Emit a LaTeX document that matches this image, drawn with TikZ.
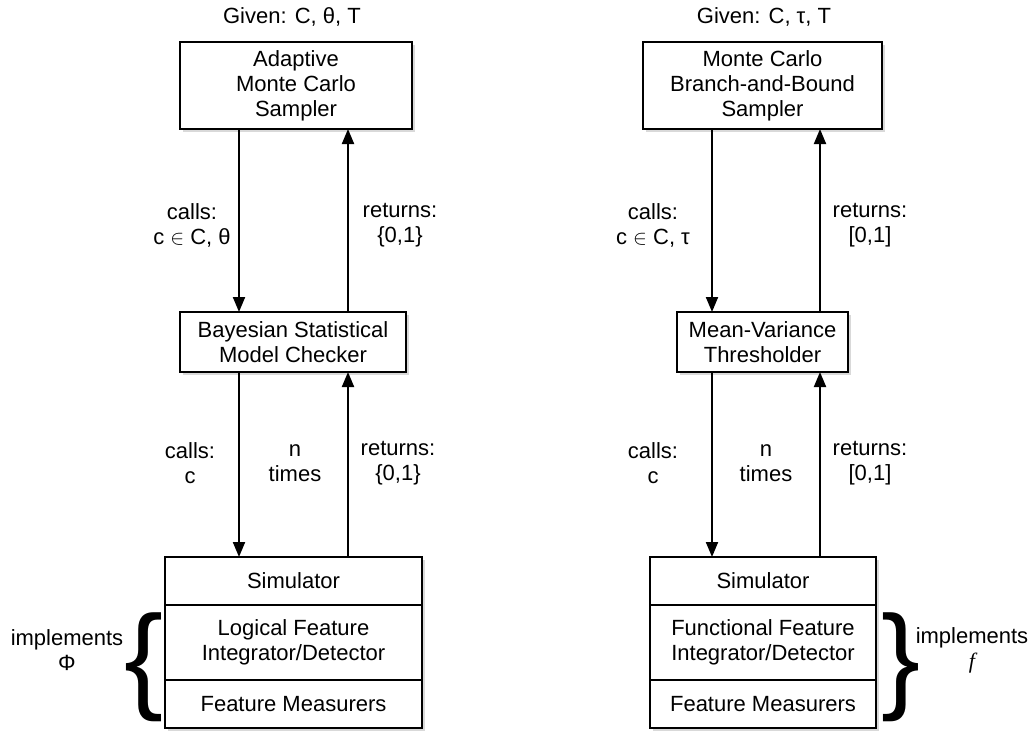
\documentclass[tikz,border=0pt]{standalone}
\usepackage{fontspec}
\setmainfont{Liberation Sans}
\newfontfamily\seriffont{Liberation Serif}
\usepackage{tikz}
\usetikzlibrary{arrows.meta}
\usetikzlibrary{positioning}
\usetikzlibrary{shadows}
\tikzset{
  every box/.style = {draw, fill=white, line width=2pt, align=center, inner sep=0pt, outer sep=0pt,
    drop shadow={shadow xshift=3pt, shadow yshift=-3pt, opacity=0.3}},
  box/.style 2 args = {every box, minimum width=#1, minimum height=#2},
  label text/.style = {align=center},
  link/.style = {->, line width=2pt},
  big brace/.style = {inner sep=0pt, font=\fontsize{117}{117}\selectfont}
}

\begin{document}
\begin{tikzpicture}[x=1pt, y=-1pt, >={Triangle[length=15pt,width=12pt]}, font=\fontsize{22}{25}\selectfont]
  \useasboundingbox (0,0) rectangle (1034,734);

  \node[label text] (givenL) at (292,17) {Given: C, θ, T};
  \node[box={232pt}{87pt}] (samplerL) at (296,85.5) {Adaptive\\Monte Carlo\\Sampler};
  \node[box={226pt}{60pt}] (checkerL) at (293,342) {Bayesian Statistical\\Model Checker};
  \node[box={257pt}{48pt}] (simL) at (293.5,581) {Simulator};
  \node[box={257pt}{75pt}, below=0pt of simL] (integL) {Logical Feature\\Integrator/Detector};
  \node[box={257pt}{48pt}, below=0pt of integL] (measL) {Feature Measurers};

  \coordinate (dnL) at (239,0);
  \coordinate (upL) at (348,0);
  \draw[link] (samplerL.south -| dnL) -- (checkerL.north -| dnL);
  \draw[link] (checkerL.north -| upL) -- (samplerL.south -| upL);
  \draw[link] (checkerL.south -| dnL) -- (simL.north -| dnL);
  \draw[link] (simL.north -| upL) -- (checkerL.south -| upL);

  \node[label text] (callsL) at (192,225) {calls:\\c $\in$ C, θ};
  \node[label text] (returnsL) at (400,225) {returns:\\\{0,1\}};
  \node[label text] (callsSimL) at (190,463) {calls:\\c};
  \node[label text] (timesL) at (295,463) {n\\times};
  \node[label text] (returnsSimL) at (398,463) {returns:\\\{0,1\}};

  \node[big brace] (braceL) at (144,667) {\{};
  \node[label text] (implL) at (67,650) {implements\\Φ};

  \node[label text] (givenR) at (764,17) {Given: C, τ, T};
  \node[box={239pt}{87pt}] (samplerR) at (762.5,85.5) {Monte Carlo\\Branch-and-Bound\\Sampler};
  \node[box={171pt}{60pt}] (checkerR) at (762.5,342) {Mean-Variance\\Thresholder};
  \node[box={226pt}{48pt}] (simR) at (763,581) {Simulator};
  \node[box={226pt}{75pt}, below=0pt of simR] (integR) {Functional Feature\\Integrator/Detector};
  \node[box={226pt}{48pt}, below=0pt of integR] (measR) {Feature Measurers};

  \coordinate (dnR) at (712,0);
  \coordinate (upR) at (820,0);
  \draw[link] (samplerR.south -| dnR) -- (checkerR.north -| dnR);
  \draw[link] (checkerR.north -| upR) -- (samplerR.south -| upR);
  \draw[link] (checkerR.south -| dnR) -- (simR.north -| dnR);
  \draw[link] (simR.north -| upR) -- (checkerR.south -| upR);

  \node[label text] (callsR) at (653,225) {calls:\\c $\in$ C, τ};
  \node[label text] (returnsR) at (870,225) {returns:\\{[0,1]}};
  \node[label text] (callsSimR) at (653,463) {calls:\\c};
  \node[label text] (timesR) at (766,463) {n\\times};
  \node[label text] (returnsSimR) at (870,463) {returns:\\{[0,1]}};

  \node[big brace] (braceR) at (901,667) {\}};
  \node[label text] (implR) at (972,650) {implements\\{\seriffont\itshape f}};
\end{tikzpicture}
\end{document}
